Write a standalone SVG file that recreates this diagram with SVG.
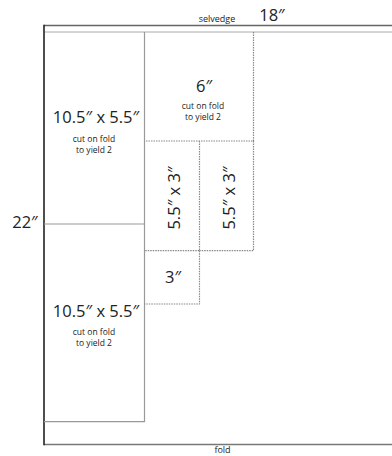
<svg xmlns="http://www.w3.org/2000/svg" width="392" height="456" viewBox="0 0 392 456">
<style>
text{font-family:"Open Sans","Liberation Sans",sans-serif;fill:#222;text-anchor:middle}
.big{font-size:16.5px}
.sm{font-size:8.5px}
.lbl{font-size:9px}
.dot{fill:none;stroke:#888;stroke-width:1.2;stroke-dasharray:1.5 1}
.cut{fill:none;stroke:#999;stroke-width:1.2}
</style>
<rect width="392" height="456" fill="#fff"/>
<g id="fabric">
<line x1="44" y1="25.5" x2="392" y2="25.5" stroke="#666" stroke-width="1.6"/>
<line x1="44.5" y1="32" x2="392" y2="32" stroke="#aaa" stroke-width="1"/>
<line x1="44" y1="444.5" x2="392" y2="444.5" stroke="#777" stroke-width="1.6"/>
<line x1="44" y1="24.7" x2="44" y2="445.3" stroke="#222" stroke-width="1.6"/>
<text class="lbl" x="217" y="21.5">selvedge</text>
<text class="big" x="272" y="21" font-size="16">18″</text>
<text class="big" x="25" y="228">22″</text>
<text class="lbl" x="222.5" y="453">fold</text>
</g>
<g id="piece-top-left">
<polyline class="cut" points="144.5,32 144.5,224 44,224" stroke="#aaa"/>
<text class="big" x="96" y="123">10.5″ x 5.5″</text>
<text class="sm" x="94" y="141.5">cut on fold</text>
<text class="sm" x="94" y="153">to yield 2</text>
</g>
<g id="piece-bottom-left">
<polyline class="cut" points="144.5,224 144.5,421.7 44,421.7"/>
<text class="big" x="96" y="316.5">10.5″ x 5.5″</text>
<text class="sm" x="94" y="334.5">cut on fold</text>
<text class="sm" x="94" y="346">to yield 2</text>
</g>
<g id="piece-6">
<polyline class="dot" points="253.5,32 253.5,141 144.5,141"/>
<text class="big" x="204" y="92">6″</text>
<text class="sm" x="203" y="108.5">cut on fold</text>
<text class="sm" x="203" y="120">to yield 2</text>
</g>
<g id="piece-5-5-a">
<polyline class="dot" points="199.5,141 199.5,250.7 144.5,250.7"/>
<text class="big" transform="translate(180,198) rotate(-90)">5.5″ x 3″</text>
</g>
<g id="piece-5-5-b">
<polyline class="dot" points="253.5,141 253.5,250.7 199.5,250.7"/>
<text class="big" transform="translate(235,198) rotate(-90)">5.5″ x 3″</text>
</g>
<g id="piece-3">
<polyline class="dot" points="199.5,250.7 199.5,304 144.5,304"/>
<text class="big" x="173" y="283">3″</text>
</g>
</svg>
